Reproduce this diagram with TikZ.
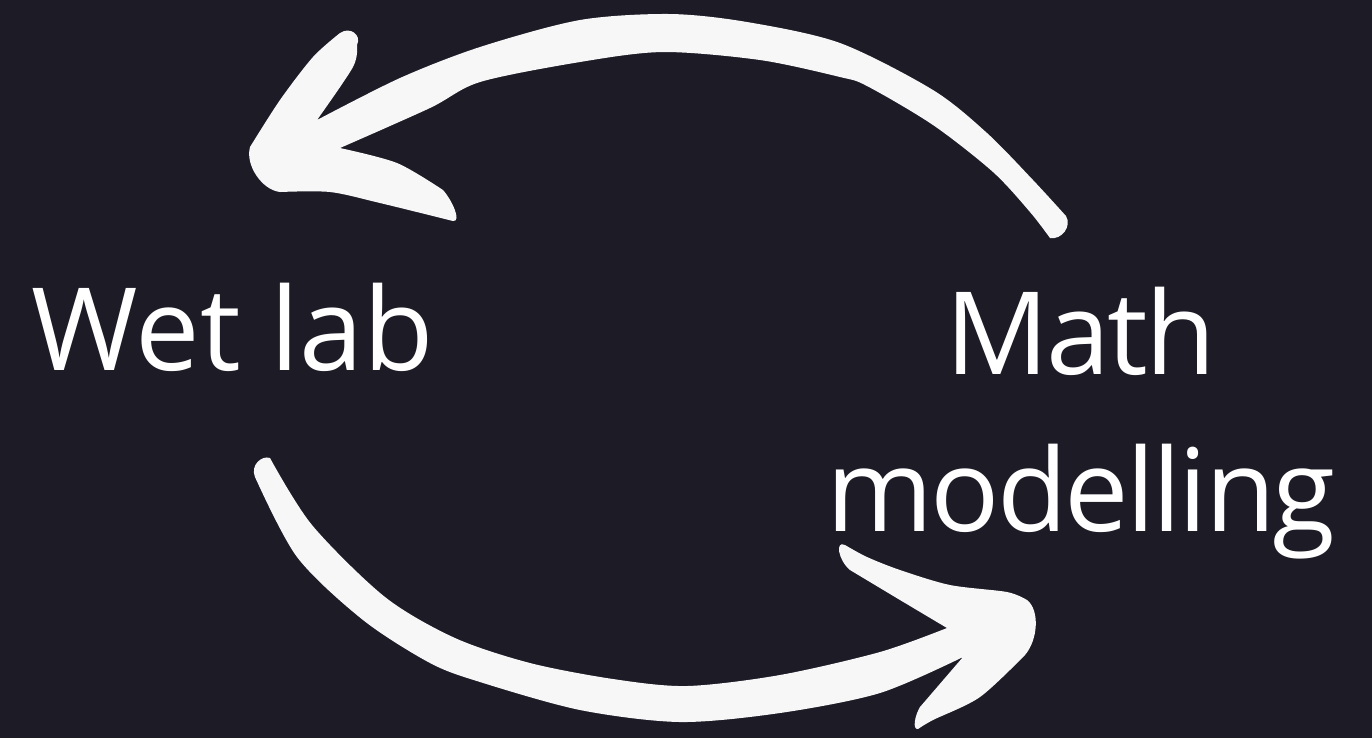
\documentclass[tikz,border=0pt]{standalone}
\usepackage{fontspec}
\setmainfont{Open Sans}
\definecolor{bgcol}{HTML}{1C1B26}
\definecolor{inkcol}{HTML}{F7F7F7}
\tikzset{
  lbl/.style={text=white, inner sep=0pt, font=\fontsize{32.7pt}{44.4pt}\selectfont},
  brush/.style={fill=inkcol}
}
\begin{document}
\begin{tikzpicture}[x=0.01cm, y=-0.01cm]
\fill[bgcol] (0,0) rectangle (1372,738);
\useasboundingbox (0,0) rectangle (1372,738);

% top arrow (Math modelling -> Wet lab)
\fill[brush]
  plot[smooth] coordinates {(317,120) (400,78) (480,47) (580,20) (670,14) (747,22) (840,43) (933,90) (987,133) (1033,180) (1066,216)}
  .. controls (1072,226) and (1062,240) .. (1050,238)
  -- plot[smooth] coordinates {(1050,238) (1030,212) (993,172) (933,125) (867,86) (840,77) (760,60) (663,52) (580,62) (480,82) (430,108) (340,148)}
  -- plot[smooth] coordinates {(340,148) (397,163) (443,190)}
  .. controls (452,200) and (462,222) .. (453,221)
  -- plot[smooth] coordinates {(453,221) (380,203) (330,192) (280,192)}
  .. controls (262,190) and (245,165) .. (250,147)
  -- plot[smooth] coordinates {(250,147) (280,100) (313,57) (340,33)}
  .. controls (350,26) and (362,35) .. (357,45)
  -- plot[smooth] coordinates {(357,45) (353,67) (317,120)}
  -- cycle;

% bottom arrow (Wet lab -> Math modelling)
\fill[brush]
  plot[smooth] coordinates {(270,458) (312,525) (385,597) (455,638) (530,663) (613,679) (687,686) (780,675) (880,652) (947,628)}
  -- plot[smooth] coordinates {(947,628) (900,600) (850,570)}
  .. controls (838,560) and (835,540) .. (845,545)
  -- plot[smooth] coordinates {(845,545) (867,557) (900,570) (950,585) (1007,592) (1027,600)}
  .. controls (1040,610) and (1038,640) .. (1025,655)
  -- plot[smooth] coordinates {(1025,655) (980,697) (933,720) (918,729)}
  .. controls (912,730) and (915,715) .. (920,707)
  -- (963,657)
  -- plot[smooth] coordinates {(963,657) (880,693) (780,713) (680,722) (580,710) (480,682) (430,663) (363,620) (297,557) (255,477)}
  .. controls (250,465) and (262,455) .. (270,458)
  -- cycle;

\node[lbl, anchor=base] (wet) at (233,370) {Wet lab};
\node[lbl, anchor=base, align=center] (math) at (1081,531)
  {\addfontfeatures{LetterSpace=-2.5}Math\\\addfontfeatures{LetterSpace=-2.5}modelling};
\end{tikzpicture}
\end{document}
